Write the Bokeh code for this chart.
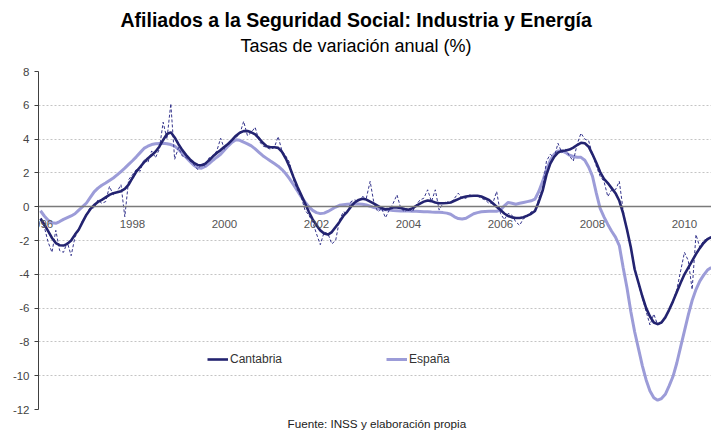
from bokeh.plotting import figure
from bokeh.models import (Range1d, FixedTicker, Legend, LegendItem,
                          ColumnDataSource, Title)
from bokeh.embed import file_html
from bokeh.resources import INLINE

# ---------------- data (monthly, Jan 1996 .. Aug 2010) ----------------
start_year = 1996
cantabria_trend = [
    -0.70, -1.05, -1.45, -1.85, -2.15, -2.28, -2.30, -2.20, -2.00, -1.65, -1.35, -0.90,
    -0.47, -0.15, 0.10, 0.28, 0.40, 0.55, 0.70, 0.80, 0.85, 0.92, 1.05, 1.30,
    1.70, 2.08, 2.35, 2.62, 2.85, 3.05, 3.25, 3.55, 3.95, 4.30, 4.40, 4.10,
    3.70, 3.35, 3.05, 2.80, 2.60, 2.47, 2.45, 2.55, 2.75, 2.98, 3.18, 3.35,
    3.55, 3.72, 3.95, 4.20, 4.38, 4.47, 4.48, 4.40, 4.28, 4.05, 3.78, 3.58,
    3.52, 3.52, 3.48, 3.25, 2.85, 2.35, 1.75, 1.20, 0.70, 0.20, -0.30, -0.75,
    -1.10, -1.40, -1.58, -1.65, -1.50, -1.20, -0.90, -0.55, -0.30, 0.00, 0.25, 0.40,
    0.47, 0.42, 0.30, 0.18, 0.05, -0.08, -0.16, -0.12, -0.05, -0.04, -0.08, -0.14,
    -0.18, -0.10, 0.05, 0.18, 0.30, 0.37, 0.33, 0.25, 0.20, 0.20, 0.22, 0.25,
    0.35, 0.45, 0.55, 0.60, 0.63, 0.65, 0.65, 0.60, 0.50, 0.40, 0.20, 0.00,
    -0.20, -0.40, -0.55, -0.63, -0.67, -0.67, -0.62, -0.53, -0.42, -0.25, 0.30, 0.95,
    1.90, 2.55, 2.95, 3.20, 3.30, 3.33, 3.38, 3.50, 3.65, 3.78, 3.75, 3.55,
    3.10, 2.60, 2.05, 1.65, 1.40, 1.10, 0.80, 0.35, -0.40, -1.35, -2.40, -3.70,
    -4.50, -5.30, -6.00, -6.50, -6.85, -6.95, -6.85, -6.55, -6.10, -5.60, -5.05, -4.50,
    -4.00, -3.60, -3.20, -2.80, -2.45, -2.15, -1.92, -1.80,
]
cantabria_monthly = [
    -0.80, -1.20, -2.10, -2.70, -1.40, -2.60, -2.70, -2.10, -2.90, -1.80, -1.40, -0.80,
    -0.50, 0.00, -0.10, 0.40, 0.20, 0.30, 1.20, 0.70, 0.90, 1.30, -0.60, 1.60,
    1.90, 2.20, 2.10, 2.80, 2.60, 3.30, 2.90, 3.40, 5.00, 4.00, 6.10, 2.80,
    3.50, 3.00, 2.90, 2.70, 2.50, 2.20, 2.50, 2.40, 2.90, 3.00, 3.30, 4.05,
    3.40, 3.80, 4.00, 4.10, 4.30, 5.05, 4.20, 4.40, 4.70, 3.90, 3.60, 3.50,
    3.40, 3.50, 4.15, 3.30, 3.00, 2.60, 1.60, 1.00, 0.60, -0.20, -0.50, -0.90,
    -1.60, -2.25, -1.50, -1.60, -2.20, -2.00, -0.80, -0.30, -0.40, 0.30, 0.40, 0.30,
    0.60, 0.50, 1.50, 0.20, -0.30, -0.10, -0.65, -0.20, 0.20, 0.70, -0.10, -0.30,
    -0.10, -0.30, 0.10, 0.40, 0.50, 1.00, 0.30, 1.00, -0.20, 0.20, 0.30, 0.20,
    0.50, 0.80, 0.50, 0.50, 0.70, 0.60, 0.65, 0.50, 0.40, 0.20, 0.20, 0.90,
    -0.40, -0.76, -0.40, -0.50, -0.90, -1.10, -0.70, -0.60, -0.30, -0.30, 0.50, 1.10,
    2.70, 3.10, 2.90, 3.75, 3.20, 3.40, 3.00, 2.70, 3.70, 4.35, 4.00, 3.90,
    3.10, 2.40, 1.80, 1.50, 0.60, 1.00, 1.00, 1.50, -0.20, -1.40, -2.40, -3.60,
    -4.60, -5.40, -6.20, -7.00, -6.35, -7.00, -6.90, -6.60, -6.10, -5.60, -4.90, -3.80,
    -2.70, -3.20, -4.90, -1.65, -2.40, -2.00, -1.90, -1.80,
]
espana_trend = [
    -0.24, -0.55, -0.80, -0.95, -0.98, -0.88, -0.75, -0.65, -0.55, -0.42, -0.20, 0.00,
    0.22, 0.55, 0.88, 1.10, 1.27, 1.40, 1.55, 1.70, 1.88, 2.08, 2.28, 2.50,
    2.72, 2.95, 3.20, 3.45, 3.58, 3.68, 3.72, 3.74, 3.75, 3.73, 3.68, 3.58,
    3.40, 3.15, 2.92, 2.68, 2.45, 2.30, 2.28, 2.38, 2.55, 2.75, 2.93, 3.10,
    3.35, 3.60, 3.82, 3.96, 3.93, 3.82, 3.72, 3.60, 3.42, 3.22, 3.02, 2.86,
    2.70, 2.55, 2.40, 2.20, 1.95, 1.65, 1.30, 0.95, 0.60, 0.28, 0.00, -0.22,
    -0.35, -0.41, -0.38, -0.28, -0.15, -0.02, 0.08, 0.12, 0.15, 0.16, 0.16, 0.16,
    0.15, 0.10, 0.03, -0.05, -0.10, -0.15, -0.18, -0.20, -0.23, -0.24, -0.25, -0.25,
    -0.26, -0.27, -0.27, -0.28, -0.30, -0.30, -0.32, -0.33, -0.33, -0.35, -0.38, -0.45,
    -0.60, -0.70, -0.73, -0.68, -0.55, -0.42, -0.35, -0.30, -0.28, -0.27, -0.27, -0.27,
    -0.20, 0.05, 0.25, 0.20, 0.15, 0.20, 0.25, 0.30, 0.35, 0.45, 0.90, 1.50,
    2.20, 2.75, 3.10, 3.30, 3.30, 3.20, 3.05, 2.97, 2.93, 2.92, 2.75, 2.35,
    1.80, 0.80, -0.10, -0.60, -1.05, -1.45, -1.80, -2.30, -3.60, -4.80, -6.20, -7.40,
    -8.40, -9.40, -10.25, -10.90, -11.30, -11.45, -11.35, -11.10, -10.60, -10.05, -9.25, -8.30,
    -7.35, -6.40, -5.55, -4.90, -4.40, -4.05, -3.75, -3.60,
]
year_ticks = [1996, 1998, 2000, 2002, 2004, 2006, 2008, 2010]
year_labels = ["1996", "1998", "2000", "2002", "2004", "2006", "2008", "2010"]
y_ticks = [-12, -10, -8, -6, -4, -2, 0, 2, 4, 6, 8]
series_names = ["Cantabria", "España"]
title_text = "Afiliados a la Seguridad Social: Industria y Energía"
subtitle_text = "Tasas de variación anual (%)"
source_text = "Fuente: INSS y elaboración propia"

t = [start_year + i / 12 for i in range(len(cantabria_trend))]

# ---------------- figure ----------------
FONT = "Liberation Sans"
C_CANT = "#232370"
C_ESP = "#9c9cd8"

x0 = 1995.957
x1 = x0 + 673 / 46
p = figure(width=711, height=434, output_backend="svg", toolbar_location=None,
           x_range=Range1d(x0, x1), y_range=Range1d(-12, 8),
           min_border_left=38, min_border_right=0,
           min_border_top=71, min_border_bottom=24)
p.outline_line_color = None
p.background_fill_color = "white"
p.border_fill_color = "white"

p.xgrid.visible = False
p.ygrid.ticker = FixedTicker(ticks=y_ticks)
p.ygrid.grid_line_color = "#c4c4c4"
p.ygrid.grid_line_dash = "2 2"
p.ygrid.grid_line_width = 1

ax = p.yaxis[0]
ax.ticker = FixedTicker(ticks=y_ticks)
ax.major_label_overrides = {v: str(v) for v in y_ticks}
ax.axis_line_color = "#404040"
ax.major_tick_line_color = "#404040"
ax.major_tick_out = 4
ax.major_tick_in = 0
ax.minor_tick_line_color = None
ax.major_label_standoff = 5
ax.major_label_text_font = FONT
ax.major_label_text_font_size = "11.5px"
ax.major_label_text_color = "#444444"

xa = p.xaxis[0]
xa.fixed_location = 0
xa.ticker = FixedTicker(ticks=year_ticks)
xa.major_label_overrides = {v: s for v, s in zip(year_ticks, year_labels)}
xa.axis_line_color = "#7a7a7a"
xa.axis_line_width = 1.3
xa.major_tick_line_color = None
xa.minor_tick_line_color = None
xa.major_tick_out = 0
xa.major_tick_in = 0
xa.major_label_standoff = 13
xa.major_label_text_font = FONT
xa.major_label_text_font_size = "11.5px"
xa.major_label_text_color = "#555555"

src = ColumnDataSource(dict(t=t, ct=cantabria_trend, cm=cantabria_monthly, et=espana_trend))
r_esp = p.line("t", "et", source=src, line_color=C_ESP, line_width=3)
p.line("t", "cm", source=src, line_color="#35358c", line_width=1, line_dash="3 2")
r_cant = p.line("t", "ct", source=src, line_color=C_CANT, line_width=2.6)

legend = Legend(items=[LegendItem(label=series_names[0], renderers=[r_cant]),
                       LegendItem(label=series_names[1], renderers=[r_esp])],
                orientation="horizontal", location=(169, 43), spacing=104,
                padding=0, margin=0, border_line_color=None, background_fill_alpha=0,
                glyph_width=21, glyph_height=14, label_height=14, label_standoff=2,
                label_text_font=FONT, label_text_font_size="12px",
                label_text_color="#333333")
p.add_layout(legend)

p.add_layout(Title(text=subtitle_text, align="left", offset=202, standoff=31.3,
                   text_font=FONT, text_font_size="18px", text_font_style="normal",
                   text_color="black"), "above")
p.add_layout(Title(text=title_text, align="left", offset=82, standoff=-24.4,
                   text_font=FONT, text_font_size="19.5px", text_font_style="bold",
                   text_color="black"), "above")
p.add_layout(Title(text=source_text, align="left", offset=249, standoff=10,
                   text_font=FONT, text_font_size="11.7px", text_font_style="normal",
                   text_color="#222222"), "below")

open("out.html", "w").write(file_html(p, INLINE))
